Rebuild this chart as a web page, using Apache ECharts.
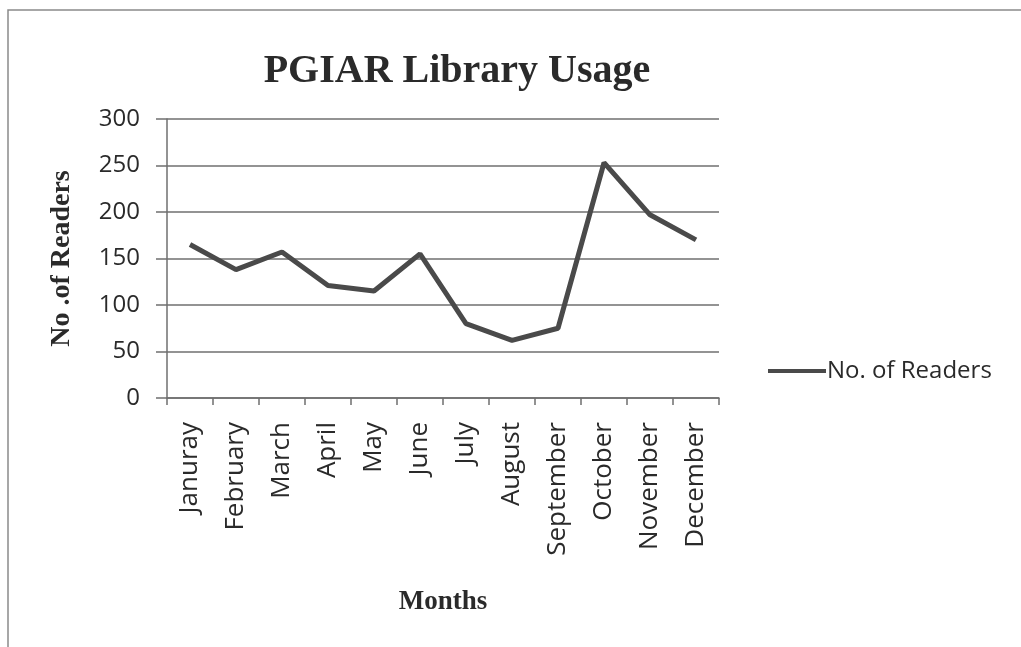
<!DOCTYPE html>
<html>
<head>
<meta charset="utf-8">
<script src="https://cdn.jsdelivr.net/npm/echarts@6/dist/echarts.min.js"></script>
<style>
  html, body { margin: 0; padding: 0; background: #fff; }
  #chart { width: 1021px; height: 647px; }
</style>
</head>
<body>
<div id="chart"></div>
<script>
const months = ['Januray', 'February', 'March', 'April', 'May', 'June', 'July', 'August', 'September', 'October', 'November', 'December']
const readers = [165, 138, 157, 121, 115, 155, 80, 62, 75, 253, 197, 170]
const yTicks = { min: 0, max: 300, interval: 50 }

const chart = echarts.init(document.getElementById('chart'))

const gridColor = '#6f6f6f'
const textColor = '#2a2a2a'

chart.setOption({
  animation: false,
  backgroundColor: '#fff',
  title: {
    text: 'PGIAR Library Usage',
    left: 452,
    top: 47,
    textAlign: 'center',
    textStyle: {
      fontFamily: 'Liberation Serif',
      fontWeight: 'bold',
      fontSize: 40,
      color: textColor,
    },
  },
  legend: {
    left: 763,
    top: 354,
    itemWidth: 58,
    itemHeight: 4,
    itemGap: 4,
    icon: 'rect',
    textStyle: { fontFamily: 'Open Sans', fontSize: 24, color: textColor, padding: [0, 0, 0, -4] },
    data: ['No. of Readers'],
  },
  grid: { left: 167, right: 302, top: 119, bottom: 249 },
  xAxis: {
    type: 'category',
    data: months,
    boundaryGap: true,
    name: 'Months',
    nameLocation: 'middle',
    nameGap: 191,
    nameTextStyle: { fontFamily: 'Liberation Serif', fontWeight: 'bold', fontSize: 27, color: textColor },
    axisLine: { lineStyle: { color: gridColor, width: 1.5 } },
    axisTick: { show: true, length: 7, alignWithLabel: false, lineStyle: { color: gridColor, width: 1.5 } },
    axisLabel: {
      rotate: 90,
      interval: 0,
      margin: 24,
      fontFamily: 'Open Sans',
      fontSize: 26,
      color: textColor,
    },
  },
  yAxis: {
    type: 'value',
    min: yTicks.min,
    max: yTicks.max,
    interval: yTicks.interval,
    name: 'No .of Readers',
    nameLocation: 'middle',
    nameGap: 91,
    nameTextStyle: { fontFamily: 'Liberation Serif', fontWeight: 'bold', fontSize: 28, color: textColor },
    axisLine: { show: true, lineStyle: { color: gridColor, width: 1.5 } },
    axisTick: { show: true, length: 11, lineStyle: { color: gridColor, width: 1.5 } },
    splitLine: { lineStyle: { color: gridColor, width: 1.5 } },
    axisLabel: { margin: 27, fontFamily: 'Open Sans', fontSize: 24, color: textColor },
  },
  series: [
    {
      name: 'No. of Readers',
      type: 'line',
      data: readers,
      symbol: 'none',
      lineStyle: { color: '#4a4a4a', width: 5 },
      itemStyle: { color: '#4a4a4a' },
    },
  ],
  graphic: [
    {
      type: 'rect',
      shape: { x: 8, y: 10, width: 1030, height: 660 },
      style: { fill: 'none', stroke: '#8a8a8a', lineWidth: 1.5 },
      silent: true,
    },
  ],
})
</script>
</body>
</html>
